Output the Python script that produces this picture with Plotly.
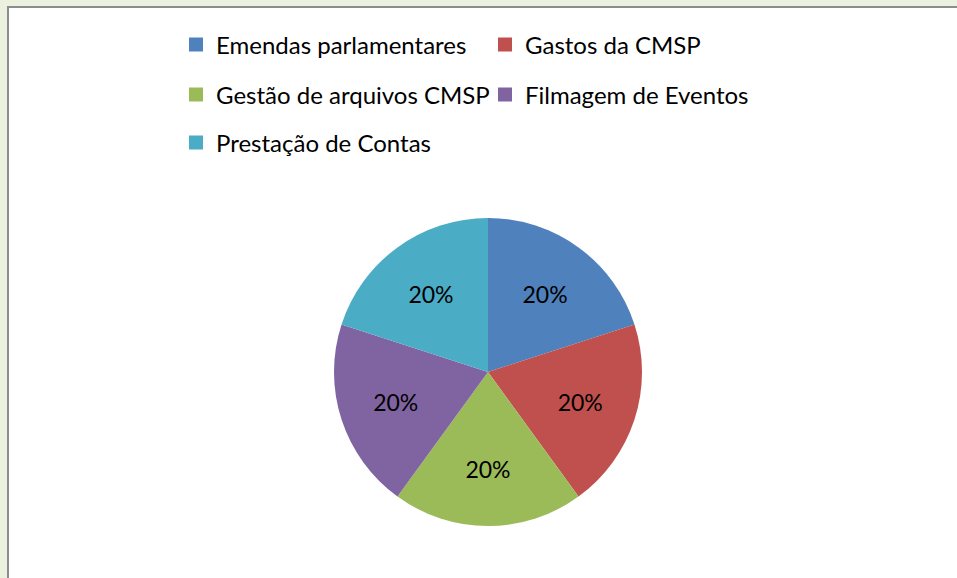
import plotly.graph_objects as go

# Data
labels = ["Emendas parlamentares", "Gastos da CMSP", "Gestão de arquivos CMSP",
          "Filmagem de Eventos", "Prestação de Contas"]
values = [20, 20, 20, 20, 20]
colors = ["#4F81BD", "#C0504D", "#9BBB59", "#8064A2", "#4BACC6"]
legend_rows = ["legend", "legend", "legend2", "legend2", "legend3"]

W, H = 957, 578
FONT = "Lato"

fig = go.Figure()

fig.add_trace(go.Pie(
    labels=labels,
    values=values,
    sort=False,
    direction="clockwise",
    rotation=0,
    marker=dict(colors=colors, line=dict(width=0)),
    texttemplate="%{percent:.0%}",
    textposition="inside",
    insidetextorientation="horizontal",
    textfont=dict(family=FONT, size=23, color="#000000"),
    showlegend=False,
    hoverinfo="label+percent",
    domain=dict(x=[(488 - 154) / W, (488 + 154) / W],
                y=[(206 - 154) / H, (206 + 154) / H]),
))

# legend entries (one per slice, same labels/colours)
for lab, col, lg in zip(labels, colors, legend_rows):
    fig.add_trace(go.Scatter(
        x=[None], y=[None], mode="markers", name=lab,
        marker=dict(symbol="square", size=14, color=col),
        legend=lg, showlegend=True, hoverinfo="skip",
    ))

leg_common = dict(
    orientation="h", xanchor="left", yanchor="middle",
    font=dict(family=FONT, size=24, color="#000000"),
    bgcolor="rgba(0,0,0,0)", entrywidth=264, entrywidthmode="pixels",
    itemclick=False, itemdoubleclick=False,
)

fig.update_layout(
    width=W, height=H,
    margin=dict(l=0, r=0, t=0, b=0),
    paper_bgcolor="#EBF1DE",
    plot_bgcolor="rgba(0,0,0,0)",
    xaxis=dict(visible=False), yaxis=dict(visible=False),
    legend=dict(x=(189 - 13) / W, y=1 - 45 / H, **leg_common),
    legend2=dict(x=(189 - 13) / W, y=1 - 95 / H, **leg_common),
    legend3=dict(x=(189 - 13) / W, y=1 - 143 / H, **leg_common),
    shapes=[dict(type="rect", xref="paper", yref="paper", layer="below",
                 x0=8 / W, x1=1.02, y0=-0.02, y1=1 - 7 / H,
                 fillcolor="#FFFFFF", line=dict(color="#8C8C8C", width=2))],
)

fig.write_html("out.html", config={"displayModeBar": False},
               post_script="document.body.style.margin='0';")
